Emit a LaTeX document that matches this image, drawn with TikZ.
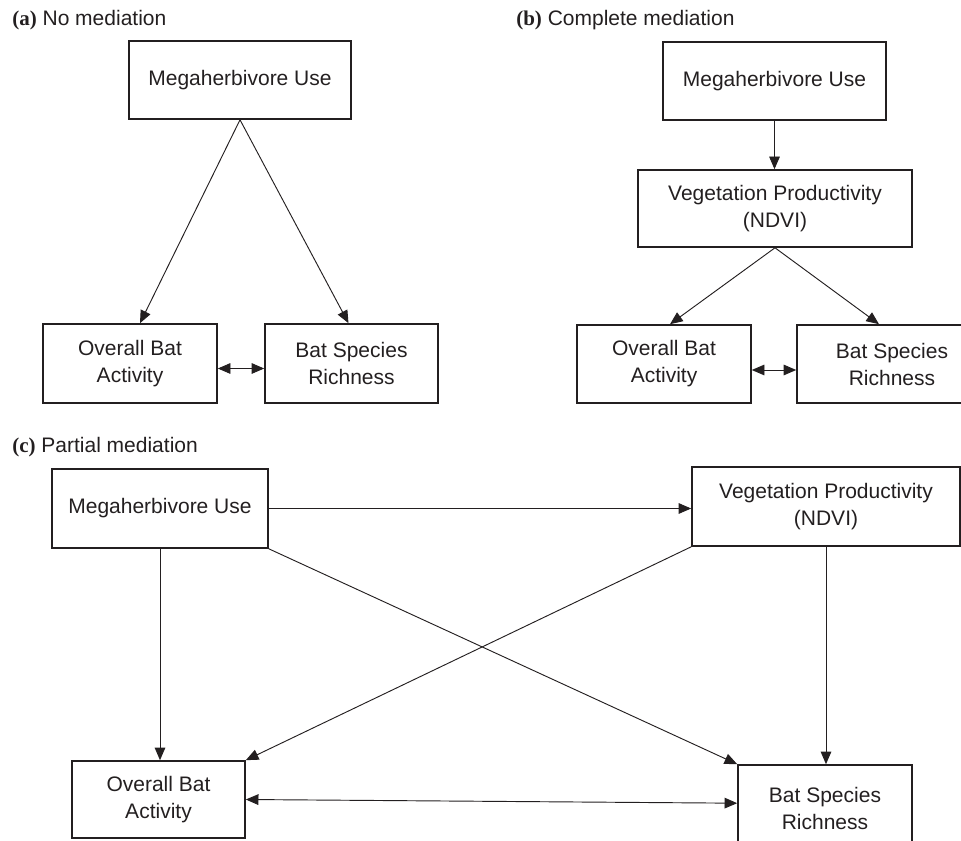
\documentclass[tikz,border=0pt]{standalone}
\usepackage{fontspec}
\setmainfont{Liberation Sans}
\newfontfamily\serifbold{Liberation Serif}
\usetikzlibrary{arrows.meta,calc}
\definecolor{ink}{RGB}{35,31,32}
\begin{document}
\begin{tikzpicture}[x=0.75pt,y=-0.75pt,
  box/.style={draw=ink, line width=1.2pt, inner sep=0pt, align=center, text=ink,
    font=\fontsize{15.75pt}{20.25pt}\selectfont},
  sz/.style 2 args={minimum width=#1*0.75pt, minimum height=#2*0.75pt},
  arr/.style={draw=ink, line width=0.7pt, -{Triangle[length=9.5pt,width=8pt]}},
  darr/.style={draw=ink, line width=0.7pt, {Triangle[length=9.5pt,width=8pt]}-{Triangle[length=9.5pt,width=8pt]}},
  paneltitle/.style={anchor=base west, inner sep=0pt, text=ink,
    font=\fontsize{15.75pt}{18pt}\selectfont}]
\useasboundingbox (0,0) rectangle (961,841);
\clip (0,0) rectangle (961,841);

% panel titles
\node[paneltitle] (ta) at (12,26) {{\serifbold\bfseries (a)} No mediation};
\node[paneltitle] (tb) at (516,26) {{\serifbold\bfseries (b)} Complete mediation};
\node[paneltitle] (tc) at (12,453) {{\serifbold\bfseries (c)} Partial mediation};

% panel (a)
\node[box, sz={222}{78}] (ma) at (240,80) {Megaherbivore Use};
\node[box, sz={174}{79}] (oa) at (130,363.5) {Overall Bat\\Activity};
\node[box, sz={173}{79}] (ra) at (351.5,363.5) {Bat Species\\Richness};
\draw[arr] (ma.south) -- ($(oa.north)+(10,0)$);
\draw[arr] (ma.south) -- ($(ra.north)+(-3,0)$);
\draw[darr] ($(oa.east)+(0,5)$) -- ($(ra.west)+(0,5)$);

% panel (b)
\node[box, sz={223}{78}] (mb) at (774.5,81) {Megaherbivore Use};
\node[box, sz={274}{77}] (vb) at (775,208.5) {Vegetation Productivity\\(NDVI)};
\node[box, sz={174}{78}] (ob) at (664,364) {Overall Bat\\Activity};
\node[box, sz={190}{78}] (rb) at (892,364) {Bat Species\\Richness};
\draw[arr] (mb.south) -- (mb.south |- vb.north);
\draw[arr] (vb.south) -- ($(ob.north)+(6,0)$);
\draw[arr] (vb.south) -- ($(rb.north)+(-13,0)$);
\draw[darr] ($(ob.east)+(0,6)$) -- ($(rb.west)+(0,6)$);

% panel (c)
\node[box, sz={216}{79}] (mc) at (160,508.5) {Megaherbivore Use};
\node[box, sz={268}{79}] (vc) at (826,506.5) {Vegetation Productivity\\(NDVI)};
\node[box, sz={173}{77}] (oc) at (158.5,799.5) {Overall Bat\\Activity};
\node[box, sz={174}{87}] (rc) at (825,808.5) {Bat Species\\Richness};
\draw[arr] (mc.east) -- (mc.east -| vc.west);
\draw[arr] (mc.south) -- (mc.south |- oc.north);
\draw[arr] (mc.south east) -- (rc.north west);
\draw[arr] (vc.south west) -- (oc.north east);
\draw[arr] (vc.south) -- (vc.south |- rc.north);
\draw[darr] (oc.east) -- ($(rc.north west)+(0,39)$);
\end{tikzpicture}
\end{document}
